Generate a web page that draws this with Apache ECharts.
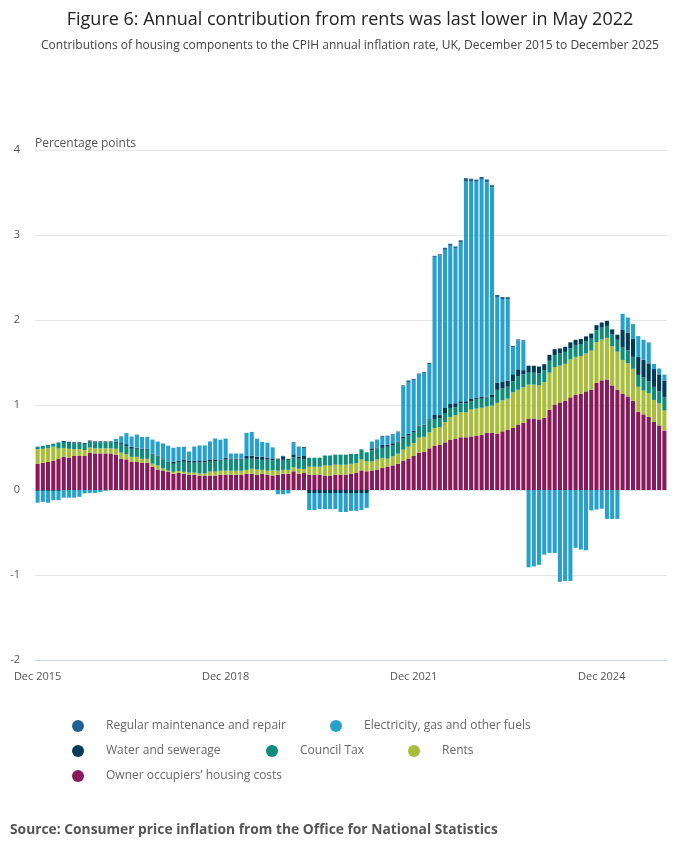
<!DOCTYPE html>
<html>
<head>
<meta charset="utf-8">
<script src="https://cdn.jsdelivr.net/npm/echarts@6/dist/echarts.min.js"></script>
<style>
  html, body { margin: 0; padding: 0; background: #fff; }
  #chart { width: 700px; height: 857px; }
</style>
</head>
<body>
<div id="chart"></div>
<script>
// months Dec 2015 .. Dec 2025
var monthNames = ['Jan', 'Feb', 'Mar', 'Apr', 'May', 'Jun', 'Jul', 'Aug', 'Sep', 'Oct', 'Nov', 'Dec']
var categories = ['Dec 2015']
for (var y = 2016; y <= 2025; y++) {
    for (var m = 0; m < 12; m++) categories.push(monthNames[m] + ' ' + y)
}

var ownerOccupiers = [
    0.31, 0.32, 0.33, 0.345, 0.37, 0.39, 0.38, 0.40, 0.40, 0.40,
    0.44, 0.43, 0.43, 0.43, 0.43, 0.415, 0.37, 0.36, 0.33, 0.33,
    0.32, 0.32, 0.275, 0.24, 0.23, 0.215, 0.19, 0.20, 0.19, 0.18,
    0.18, 0.17, 0.17, 0.17, 0.17, 0.18, 0.18, 0.18, 0.18, 0.18,
    0.19, 0.19, 0.18, 0.19, 0.18, 0.17, 0.18, 0.19, 0.19, 0.22,
    0.19, 0.20, 0.18, 0.18, 0.18, 0.17, 0.17, 0.18, 0.18, 0.18,
    0.19, 0.20, 0.23, 0.22, 0.23, 0.24, 0.26, 0.275, 0.29, 0.31,
    0.345, 0.37, 0.40, 0.44, 0.45, 0.49, 0.52, 0.53, 0.56, 0.59,
    0.60, 0.62, 0.62, 0.63, 0.64, 0.65, 0.675, 0.675, 0.66, 0.69,
    0.71, 0.73, 0.77, 0.79, 0.84, 0.84, 0.83, 0.85, 0.945, 1.0,
    1.03, 1.05, 1.09, 1.12, 1.13, 1.16, 1.18, 1.26, 1.29, 1.30,
    1.23, 1.18, 1.13, 1.10, 1.05, 0.92, 0.89, 0.86, 0.80, 0.76,
    0.70
]
var rents = [
    0.17, 0.165, 0.165, 0.165, 0.12, 0.105, 0.105, 0.08, 0.08, 0.07,
    0.06, 0.06, 0.06, 0.06, 0.06, 0.07, 0.07, 0.06, 0.06, 0.06,
    0.047, 0.047, 0.035, 0.047, 0.024, 0.012, 0.024, 0.024, 0.024, 0.024,
    0.024, 0.024, 0.024, 0.047, 0.047, 0.047, 0.047, 0.047, 0.047, 0.047,
    0.047, 0.06, 0.06, 0.047, 0.047, 0.06, 0.047, 0.047, 0.047, 0.047,
    0.06, 0.047, 0.094, 0.094, 0.094, 0.118, 0.118, 0.118, 0.118, 0.118,
    0.118, 0.118, 0.13, 0.118, 0.106, 0.118, 0.118, 0.094, 0.106, 0.118,
    0.13, 0.14, 0.153, 0.176, 0.176, 0.19, 0.21, 0.21, 0.24, 0.27,
    0.28, 0.294, 0.294, 0.318, 0.318, 0.318, 0.306, 0.318, 0.365, 0.365,
    0.365, 0.42, 0.41, 0.42, 0.40, 0.40, 0.40, 0.42, 0.435, 0.447,
    0.435, 0.435, 0.447, 0.447, 0.447, 0.447, 0.46, 0.48, 0.48, 0.49,
    0.46, 0.447, 0.40, 0.39, 0.376, 0.294, 0.28, 0.28, 0.26, 0.26,
    0.235
]
var councilTax = [
    0.03, 0.035, 0.035, 0.035, 0.07, 0.07, 0.07, 0.07, 0.07, 0.07,
    0.07, 0.07, 0.07, 0.07, 0.07, 0.07, 0.10, 0.095, 0.095, 0.095,
    0.106, 0.106, 0.106, 0.106, 0.106, 0.094, 0.094, 0.106, 0.118, 0.118,
    0.118, 0.13, 0.13, 0.118, 0.118, 0.118, 0.13, 0.13, 0.13, 0.13,
    0.13, 0.118, 0.118, 0.118, 0.13, 0.118, 0.13, 0.118, 0.118, 0.118,
    0.118, 0.118, 0.106, 0.106, 0.106, 0.118, 0.118, 0.118, 0.118, 0.118,
    0.118, 0.106, 0.118, 0.106, 0.13, 0.13, 0.118, 0.14, 0.13, 0.13,
    0.13, 0.13, 0.13, 0.13, 0.13, 0.14, 0.106, 0.106, 0.106, 0.106,
    0.094, 0.106, 0.106, 0.094, 0.106, 0.106, 0.106, 0.094, 0.153, 0.14,
    0.14, 0.13, 0.16, 0.15, 0.14, 0.14, 0.14, 0.14, 0.14, 0.14,
    0.14, 0.14, 0.13, 0.14, 0.14, 0.14, 0.14, 0.14, 0.14, 0.14,
    0.14, 0.14, 0.153, 0.153, 0.14, 0.14, 0.153, 0.14, 0.153, 0.14,
    0.153
]
var waterSewerage = [
    -0.01, -0.01, -0.01, -0.01, -0.01, 0.012, 0.012, 0.012, 0.012, 0.012,
    0.012, 0.012, 0.012, 0.012, 0.012, 0.012, 0.012, 0.024, 0.024, 0.012,
    0.012, 0.012, 0.012, 0.012, 0.012, 0.012, 0.024, 0.012, 0.024, 0.024,
    0.024, 0.024, 0.024, 0.024, 0.024, 0.012, 0.024, 0.012, 0.012, 0.012,
    0.035, 0.035, 0.035, 0.035, 0.024, 0.024, 0.012, 0.035, 0.012, 0.035,
    0.024, 0.035, -0.035, -0.035, -0.035, -0.035, -0.035, -0.035, -0.035, -0.035,
    -0.035, -0.035, -0.035, -0.035, 0.024, 0.012, 0.035, 0.024, 0.024, 0.012,
    0.024, 0.024, 0.012, 0.012, 0.012, 0.012, 0.047, 0.035, 0.06, 0.047,
    0.047, 0.024, 0.024, 0.035, 0.024, 0.024, 0.012, 0.035, 0.082, 0.082,
    0.07, 0.082, 0.08, 0.05, 0.082, 0.082, 0.082, 0.07, 0.07, 0.07,
    0.06, 0.06, 0.07, 0.06, 0.06, 0.06, 0.06, 0.06, 0.06, 0.06,
    0.06, 0.06, 0.20, 0.21, 0.21, 0.21, 0.21, 0.21, 0.21, 0.20,
    0.20
]
var electricityGas = [
    -0.14, -0.13, -0.14, -0.11, -0.11, -0.09, -0.09, -0.09, -0.08, -0.04,
    -0.035, -0.035, -0.025, -0.01, 0, 0.035, 0.08, 0.13, 0.12, 0.155,
    0.14, 0.14, 0.165, 0.165, 0.176, 0.188, 0.165, 0.165, 0.153, 0.106,
    0.165, 0.176, 0.176, 0.212, 0.247, 0.235, 0.224, 0.06, 0.06, 0.06,
    0.27, 0.28, 0.21, 0.176, 0.176, 0.13, -0.05, -0.05, -0.04, 0.13,
    0.106, 0.094, -0.20, -0.20, -0.19, -0.19, -0.19, -0.19, -0.224, -0.224,
    -0.21, -0.21, -0.20, -0.176, 0.08, 0.094, 0.094, 0.094, 0.094, 0.106,
    0.59, 0.60, 0.60, 0.60, 0.61, 0.65, 1.86, 1.88, 1.86, 1.86,
    1.82, 1.87, 2.59, 2.55, 2.54, 2.56, 2.52, 2.44, 1.01, 0.97,
    0.96, 0.32, 0.34, 0.34, -0.91, -0.90, -0.88, -0.76, -0.74, -0.74,
    -1.08, -1.07, -1.07, -0.68, -0.70, -0.71, -0.24, -0.23, -0.22, -0.34,
    -0.34, -0.34, 0.19, 0.176, 0.176, 0.247, 0.235, 0.247, 0.06, 0.07,
    0.07
]
var maintenance = [
    0, 0, 0, 0, 0, 0, 0, 0, 0, 0,
    0, 0, 0, 0, 0, 0, 0, 0, 0, 0,
    0, 0, 0, 0, 0, 0, 0, 0, 0, 0,
    0, 0, 0, 0, 0, 0, 0, 0, 0, 0,
    0, 0, 0, 0, 0, 0, 0, 0.012, 0, 0.012,
    0.012, 0.012, 0, 0, 0, 0, 0, 0, 0, 0,
    0, 0, 0, 0, 0, 0, 0.012, 0.012, 0.012, 0.012,
    0.012, 0.024, 0.012, 0.012, 0.012, 0.012, 0.012, 0.012, 0.024, 0.024,
    0.024, 0.024, 0.035, 0.035, 0.024, 0.024, 0.035, 0.024, 0.024, 0.024,
    0.024, 0.012, 0.012, 0.012, 0, 0, 0, 0, 0, 0,
    0, 0, 0, 0, 0, 0, 0, 0, 0, 0,
    0, 0, 0, 0, 0, 0, 0, 0, 0, 0,
    0
]

var seriesNames = [
    'Owner occupiers’ housing costs',
    'Rents',
    'Council Tax',
    'Water and sewerage',
    'Electricity, gas and other fuels',
    'Regular maintenance and repair'
]
var seriesData = [ownerOccupiers, rents, councilTax, waterSewerage, electricityGas, maintenance]
var colors = ['#871a5b', '#a8bd3a', '#118c7b', '#003c57', '#27a0cc', '#206095']

var font = "'Open Sans', 'Noto Sans', sans-serif"

function makeLegend(name, left, top) {
    return {
        data: [name],
        left: left,
        top: top,
        icon: 'circle',
        itemWidth: 12,
        itemHeight: 12,
        selectedMode: false,
        textStyle: {
            color: '#666666',
            fontSize: 12,
            fontFamily: font,
            padding: [0, 0, 0, 17]
        }
    }
}

var myChart = echarts.init(document.getElementById('chart'))

var option = {
    animation: false,
    color: colors,
    title: [
        {
            text: 'Figure 6: Annual contribution from rents was last lower in May 2022',
            left: 'center',
            top: 6,
            textStyle: { fontFamily: font, fontSize: 18, fontWeight: 'normal', color: '#222222' }
        },
        {
            text: 'Contributions of housing components to the CPIH annual inflation rate, UK, December 2015 to December 2025',
            left: 'center',
            top: 35,
            textStyle: { fontFamily: font, fontSize: 12, fontWeight: 'normal', color: '#414042' }
        }
    ],
    legend: [
        makeLegend(seriesNames[5], 67, 715),
        makeLegend(seriesNames[4], 325, 715),
        makeLegend(seriesNames[3], 67, 740),
        makeLegend(seriesNames[2], 261, 740),
        makeLegend(seriesNames[1], 403, 740),
        makeLegend(seriesNames[0], 67, 765)
    ],
    grid: {
        left: 35,
        right: 33,
        top: 150,
        bottom: 197
    },
    xAxis: {
        type: 'category',
        data: categories,
        boundaryGap: true,
        axisLine: { onZero: false, lineStyle: { color: '#ccd6eb' } },
        axisTick: {
            alignWithLabel: true,
            length: 9,
            interval: function (index) { return index % 36 === 0 },
            lineStyle: { color: '#ccd6eb' }
        },
        axisLabel: {
            interval: function (index) { return index % 36 === 0 },
            color: '#555555',
            fontSize: 11,
            fontFamily: font,
            margin: 11
        }
    },
    yAxis: {
        type: 'value',
        min: -2,
        max: 4,
        interval: 1,
        axisLine: { show: false },
        axisTick: { show: false },
        splitLine: { lineStyle: { color: '#e6e6e6' } },
        axisLabel: {
            color: '#555555',
            fontSize: 11,
            fontFamily: font,
            margin: 15
        }
    },
    graphic: [
        {
            type: 'text',
            left: 35,
            top: 138,
            style: { text: 'Percentage points', fill: '#555555', font: '12px ' + font }
        },
        {
            type: 'text',
            left: 10,
            top: 823,
            style: {
                text: 'Source: Consumer price inflation from the Office for National Statistics',
                fill: '#555555',
                font: 'bold 13.8px ' + font
            }
        }
    ],
    series: seriesNames.map(function (name, i) {
        return {
            name: name,
            type: 'bar',
            stack: 'total',
            barCategoryGap: '22%',
            data: seriesData[i]
        }
    })
}

myChart.setOption(option)
</script>
</body>
</html>
